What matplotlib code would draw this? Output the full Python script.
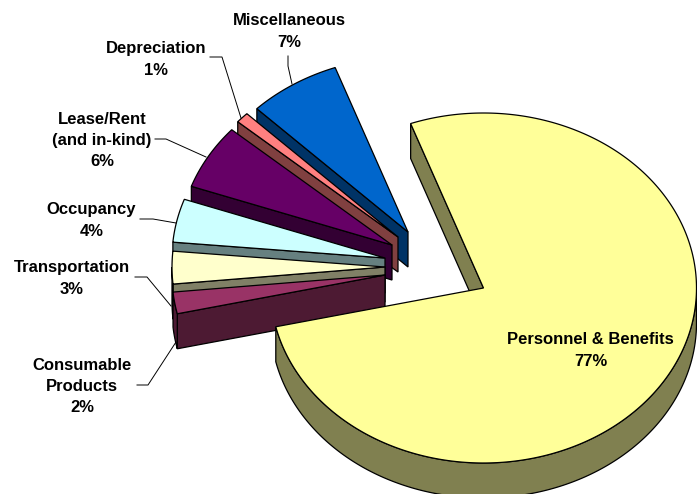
import matplotlib
matplotlib.use('Agg')
import matplotlib.pyplot as plt
import numpy as np

# data, clockwise from the top corner of the big slice
categories = ['Personnel & Benefits', 'Consumable\nProducts', 'Transportation', 'Occupancy',
              'Lease/Rent\n(and in-kind)', 'Depreciation', 'Miscellaneous']
values = [77, 2, 3, 4, 6, 1, 7]

# styles
top_colors = ['#FFFF99', '#993366', '#FFFFCC', '#CCFFFF', '#660066', '#FF8080', '#0066CC']
side_colors = ['#808050', '#4D1A33', '#808066', '#668080', '#330033', '#804040', '#003366']

# layout, in pixels of the picture
apex_x = [483.5, 385, 385, 385, 392, 398, 408]
apex_y = [288, 275, 267, 258, 245, 237, 232]
label_x = [590.5, 82, 72, 91.5, 102, 156, 289]
label_y = [350.5, 386.5, 278.5, 220.5, 140.5, 59.5, 31.5]
leaders = [None,
           ([137, 148, 176], [385, 385, 342]),
           ([135, 147, 171], [277, 277, 306]),
           ([140, 153, 176], [219, 219, 223]),
           ([155, 166, 206], [139, 139, 157]),
           ([210, 222, 241], [57, 57, 118]),
           ([288, 288, 292], [56, 66, 84])]
rx, ry = 213, 175
depth = 35
start_angle = 110

plt.rcParams['font.family'] = ['Liberation Sans', 'DejaVu Sans']


def point(cx, cy, deg):
    t = np.radians(deg)
    return cx + rx*np.cos(t), cy - ry*np.sin(t)


def draw_slice(ax, cx, cy, a0, a1, top, side):
    """a0 is the counter-clockwise edge, a1 < a0 the clockwise one."""
    x0, y0 = point(cx, cy, a0)
    # cut face along the a0 edge, it faces the viewer on this side of the pie
    ax.fill([cx, x0, x0, cx], [cy, y0, y0+depth, cy+depth], fc=side, ec='black', lw=0.9)

    # rim, only the near half of the ellipse shows
    th = np.linspace(a1, a0, 300)
    th = th[np.sin(np.radians(th)) <= 0]
    if len(th) > 1:
        x, y = point(cx, cy, th)
        ax.fill(np.r_[x, x[::-1]], np.r_[y, y[::-1]+depth], fc=side, ec='black', lw=0.9)

    th = np.linspace(a1, a0, 300)
    x, y = point(cx, cy, th)
    ax.fill(np.r_[cx, x], np.r_[cy, y], fc=top, ec='black', lw=0.9)


fg = plt.figure(figsize=(6.97, 4.94), dpi=100)
ax = fg.add_axes([0, 0, 1, 1])
ax.set_xlim(0, 697)
ax.set_ylim(494, 0)
ax.axis('off')

# angle of each slice, going clockwise
spans = np.array(values) / sum(values) * 360
starts = start_angle - np.r_[0, np.cumsum(spans)[:-1]]
ends = starts - spans

# back slices first, the big one goes over them
for i in list(range(len(values)-1, 0, -1)) + [0]:
    draw_slice(ax, apex_x[i], apex_y[i], starts[i], ends[i], top_colors[i], side_colors[i])

for i, name in enumerate(categories):
    ax.text(label_x[i], label_y[i], f'{name}\n{values[i]}%', ha='center', va='center',
            fontsize=12, fontweight='bold', linespacing=1.52, color='black')
    if leaders[i] is not None:
        ax.plot(leaders[i][0], leaders[i][1], color='black', lw=0.7)

fg.savefig('out.png', dpi=100)
